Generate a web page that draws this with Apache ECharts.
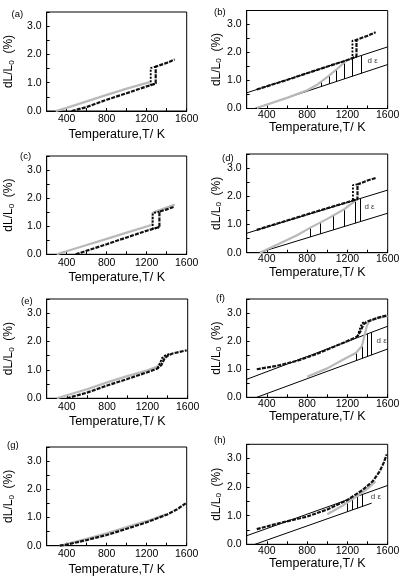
<!DOCTYPE html>
<html><head><meta charset="utf-8">
<script src="https://cdn.jsdelivr.net/npm/echarts@6/dist/echarts.min.js"></script>
<style>html,body{margin:0;padding:0;background:#fff}#c{width:405px;height:579px}</style>
</head><body><div id="c"></div>
<script>
// ---------- data (T in K, dL/L0 in %) ----------
const xTickLabels = [400, 800, 1200, 1600];
const yTickLabels = [0, 1, 2, 3];
const panelNames = ['(a)','(b)','(c)','(d)','(e)','(f)','(g)','(h)'];

// (a)
const aGray  = [[290,0],[400,0.11],[600,0.34],[800,0.57],[1000,0.79],[1230,1.02]];
const aBlack = [[450,0],[600,0.14],[800,0.4],[1000,0.63],[1200,0.87],[1290,0.97],[1290,1.57],[1400,1.7],[1480,1.82]];
const aLoop  = [[1290,1.57],[1240,1.52],[1240,0.92],[1290,0.97]];
// (b)
const bUpper = [[200,0.56],[1600,2.2]];
const bLower = [[280,0],[1600,1.57]];
const bBlack = [[300,0.68],[600,1.02],[900,1.38],[1200,1.73],[1290,1.86],[1290,2.45],[1400,2.6],[1480,2.72]];
const bLoop  = [[1290,2.45],[1250,2.42],[1250,1.81],[1290,1.86]];
const bGray  = [[300,0.02],[600,0.38],[800,0.65],[900,0.85],[1000,1.12],[1100,1.42],[1180,1.68]];
const bHatch = [[940,0.785,0.95],[1017,0.877,1.16],[1093,0.967,1.4],[1173,1.06,1.66],[1250,1.155,1.79],[1340,1.26,1.89]];
const bLabel = [1450,1.7];
// (c)
const cGray  = [[300,0],[600,0.33],[800,0.55],[1000,0.77],[1255,1.05],[1260,1.48],[1330,1.58],[1480,1.77]];
const cBlack = [[490,0],[800,0.36],[1000,0.6],[1200,0.84],[1327,0.97],[1327,1.52],[1400,1.6],[1480,1.7]];
const cLoop  = [[1327,1.52],[1260,1.46],[1260,0.9],[1327,0.97]];
// (d)
const dUpper = [[200,0.69],[1600,2.22]];
const dLower = [[320,0],[1600,1.4]];
const dBlack = [[300,0.81],[600,1.14],[900,1.47],[1200,1.79],[1300,1.9],[1300,2.42],[1400,2.56],[1480,2.65]];
const dLoop  = [[1300,2.42],[1255,2.4],[1255,1.85],[1300,1.9]];
const dGray  = [[330,0],[500,0.28],[700,0.62],[833,0.89],[1000,1.2],[1173,1.55],[1300,1.9]];
const dHatch = [[833,0.56,0.89],[933,0.67,1.07],[1060,0.81,1.32],[1173,0.93,1.55],[1277,1.05,1.85],[1323,1.1,1.93]];
const dLabel = [1420,1.64];
// (e)
const eGray  = [[300,0],[600,0.32],[800,0.56],[1000,0.78],[1200,0.99],[1300,1.12],[1340,1.3],[1370,1.45],[1420,1.55]];
const eBlack = [[400,0],[600,0.2],[800,0.45],[1000,0.68],[1200,0.92],[1300,1.05],[1340,1.18],[1370,1.4],[1400,1.5],[1450,1.58],[1500,1.62],[1590,1.69]];
const eLoop  = [[1300,1.06],[1320,1.2],[1345,1.42],[1380,1.52],[1420,1.56]];
// (f)
const fUpper = [[200,0.64],[1600,2.53]];
const fLower = [[300,0],[1600,1.72]];
const fBlack = [[300,1.0],[500,1.12],[700,1.3],[900,1.55],[1100,1.85],[1250,2.08],[1300,2.17],[1330,2.35],[1360,2.6],[1400,2.7],[1500,2.83],[1600,2.92]];
const fLoop  = [[1300,2.17],[1320,2.4],[1345,2.64],[1380,2.7]];
const fGray  = [[800,0.73],[1000,1.03],[1150,1.33],[1283,1.58],[1343,1.82],[1370,2.2],[1393,2.55],[1420,2.72],[1500,2.82],[1600,2.9]];
const fHatch = [[1283,1.30,1.58],[1343,1.38,1.82],[1393,1.45,2.25],[1440,1.51,2.31]];
const fLabel = [1540,2.0];
// (g)
const gBlack = [[330,0],[400,0.04],[600,0.2],[800,0.38],[1000,0.6],[1200,0.83],[1400,1.1],[1500,1.28],[1590,1.5]];
const gGray  = [[330,0],[600,0.24],[800,0.44],[1000,0.66],[1200,0.87],[1400,1.12]];
// (h)
const hUpper = [[200,0.3],[1600,2.06]];
const hLower = [[283,0],[1440,1.44]];
const hBlack = [[300,0.53],[500,0.72],[800,0.97],[1000,1.22],[1200,1.55],[1350,1.9],[1450,2.2],[1520,2.55],[1560,2.85],[1590,3.15]];
const hGray  = [[1000,1.05],[1150,1.35],[1300,1.7],[1400,1.95],[1480,2.2]];
const hHatch = [[1200,1.14,1.55],[1250,1.2,1.62],[1300,1.26,1.69],[1350,1.32,1.75]];
const hLabel = [1483,1.66];

// ---------- layout ----------
const layout = [
  {l:46.7, t:12,    w:140, h:99,   right:false, lab:[17.5,15]},
  {l:246.7,t:10.5,  w:141, h:98,   right:true,  lab:[220,13]},
  {l:46.7, t:156,   w:140, h:98.3, right:false, lab:[26,157]},
  {l:246.7,t:154,   w:141, h:98.7, right:true,  lab:[228,159.5]},
  {l:46.7, t:299,   w:141, h:99.3, right:false, lab:[27,302.5]},
  {l:246.7,t:299,   w:141, h:98.3, right:true,  lab:[222,299.5]},
  {l:46.7, t:447,   w:140, h:98.7, right:false, lab:[13,446.5]},
  {l:246.7,t:444.3, w:141, h:100,  right:true,  lab:[220,441.5]}
];

const panels = [
  {gray:aGray, black:aBlack, loop:aLoop},
  {gray:bGray, black:bBlack, loop:bLoop, upper:bUpper, lower:bLower, hatch:bHatch, dlab:bLabel},
  {gray:cGray, black:cBlack, loop:cLoop},
  {gray:dGray, black:dBlack, loop:dLoop, upper:dUpper, lower:dLower, hatch:dHatch, dlab:dLabel},
  {gray:eGray, black:eBlack, loop:eLoop},
  {gray:fGray, black:fBlack, loop:fLoop, upper:fUpper, lower:fLower, hatch:fHatch, dlab:fLabel},
  {gray:gGray, black:gBlack},
  {gray:hGray, black:hBlack, upper:hUpper, lower:hLower, hatch:hHatch, dlab:hLabel}
];

const FONT = 'Liberation Sans, Arial, sans-serif';
const grids = [], xAxes = [], yAxes = [], series = [], graphics = [];

layout.forEach((L, i) => {
  grids.push({left:L.l, top:L.t, width:L.w, height:L.h, show:true, borderColor:'#000', borderWidth:1, backgroundColor:'transparent'});
  xAxes.push({
    gridIndex:i, type:'value', min:200, max:1600, interval:200,
    axisLine:{lineStyle:{color:'#000', width:1}},
    axisTick:{inside:true, length:3, lineStyle:{color:'#000'}},
    splitLine:{show:false},
    axisLabel:{fontFamily:FONT, fontSize:10.5, color:'#000', margin: L.right ? 1 : 3,
      formatter: v => xTickLabels.includes(v) ? String(v) : ''},
    name:'Temperature,T/ K', nameLocation:'middle', nameGap: L.right ? 3 : 17,
    nameTextStyle:{fontFamily:FONT, fontSize:12.5, color:'#000', verticalAlign:'top'}
  });
  yAxes.push({
    gridIndex:i, type:'value', min:0, max:3.5, interval:0.5,
    axisLine:{lineStyle:{color:'#000', width:1}},
    axisTick:{inside:true, length:3, lineStyle:{color:'#000'}},
    splitLine:{show:false},
    axisLabel:{fontFamily:FONT, fontSize:10.5, color:'#000', margin:5,
      formatter: v => yTickLabels.includes(v) ? v.toFixed(1) : ''},
    name:'{t|dL/L}{s|0}{t|  (%)}', nameLocation:'middle', nameGap: L.right ? 21 : 31,
    nameTextStyle:{rich:{
      t:{fontFamily:FONT, fontSize:12, color:'#000', lineHeight:14},
      s:{fontFamily:FONT, fontSize:8, color:'#000', verticalAlign:'bottom', lineHeight:9}
    }}
  });
  graphics.push({type:'text', left:L.lab[0]-6, top:L.lab[1]-6,
    style:{text:panelNames[i], font:'9.5px ' + FONT, fill:'#000'}});

  const P = panels[i];
  const base = {xAxisIndex:i, yAxisIndex:i, symbol:'none', showSymbol:false, silent:true, animation:false};
  if (P.upper) series.push(Object.assign({type:'line', data:P.upper, lineStyle:{color:'#000', width:1}, z:2}, base));
  if (P.lower) series.push(Object.assign({type:'line', data:P.lower, lineStyle:{color:'#000', width:1}, z:2}, base));
  if (P.hatch) series.push({type:'lines', coordinateSystem:'cartesian2d', xAxisIndex:i, yAxisIndex:i, silent:true, animation:false,
      data:P.hatch.map(h => ({coords:[[h[0],h[1]],[h[0],h[2]]]})),
      lineStyle:{color:'#000', width:1, opacity:1}, z:2});
  series.push(Object.assign({type:'line', data:P.gray, lineStyle:{color:'#b9b9b9', width:2.2}, z:3}, base));
  series.push(Object.assign({type:'line', data:P.black, lineStyle:{color:'#111', width:2.2, type:[4,1.2]}, z:4}, base));
  if (P.loop) series.push(Object.assign({type:'line', data:P.loop, lineStyle:{color:'#000', width:1.8, type:[2,1.5]}, z:4}, base));
  if (P.dlab) series.push({type:'scatter', xAxisIndex:i, yAxisIndex:i, silent:true, animation:false, symbolSize:0,
      data:[P.dlab], label:{show:true, position:'inside', formatter:'d ε', fontFamily:FONT, fontSize:8, color:'#000'}, z:5});
});

const chart = echarts.init(document.getElementById('c'), null, {renderer:'canvas'});
chart.setOption({animation:false, backgroundColor:'#fff', grid:grids, xAxis:xAxes, yAxis:yAxes, series:series, graphic:graphics});
</script></body></html>
